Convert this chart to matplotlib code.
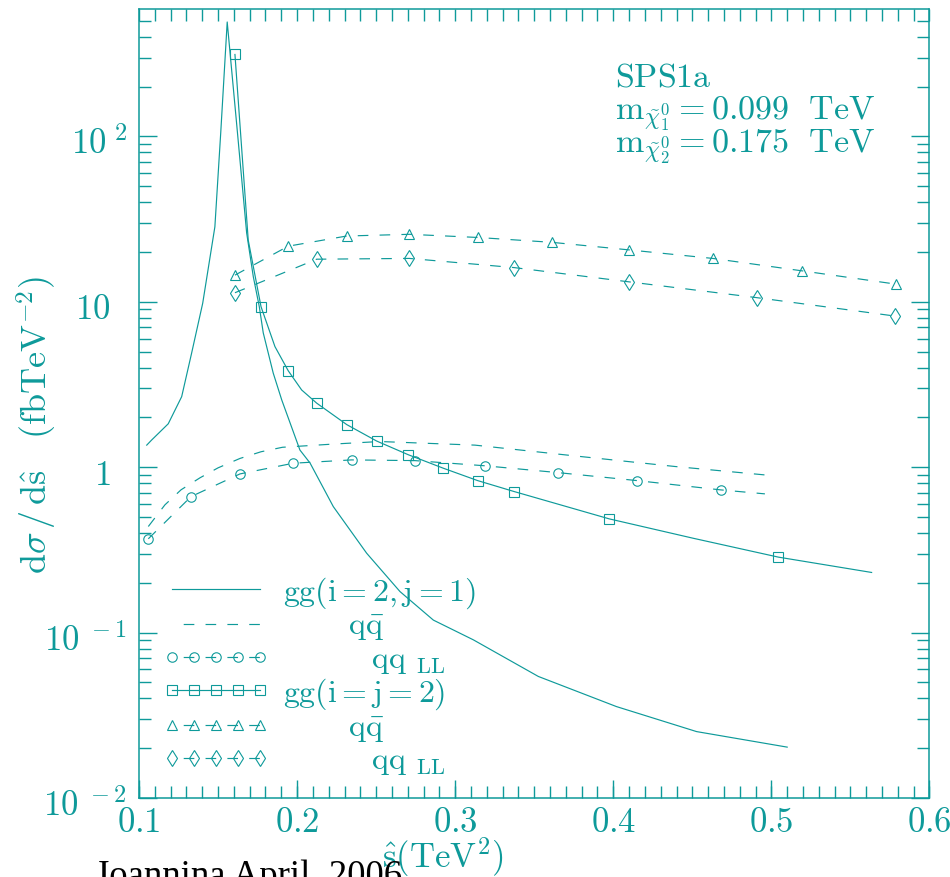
import matplotlib
matplotlib.use("Agg")
import matplotlib.pyplot as plt
from matplotlib.lines import Line2D
from matplotlib.legend_handler import HandlerLine2D
from matplotlib.ticker import MultipleLocator, LogLocator, NullFormatter
from matplotlib.transforms import ScaledTranslation

TEAL = '#0e9a9a'
plt.rcParams['mathtext.fontset'] = 'cm'
plt.rcParams['font.family'] = ['DejaVu Serif']

# --- gg(i=2,j=1) : resonance peak near the chi2 threshold ---
gg21_x = [0.1049, 0.108, 0.1185, 0.127, 0.1333, 0.1403, 0.148, 0.1517, 0.1558,
          0.1623, 0.1681, 0.1723, 0.1761, 0.1786, 0.1849, 0.1903, 0.2018, 0.2082,
          0.2229, 0.244, 0.2651, 0.2862, 0.3115, 0.3526, 0.402, 0.4527, 0.51]
gg21_y = [1.36, 1.46, 1.83, 2.67, 4.9, 9.8, 28.4, 105, 492,
          105, 26.1, 14.2, 9.34, 6.49, 3.71, 2.55, 1.27, 1.06,
          0.578, 0.302, 0.177, 0.119, 0.0904, 0.0543, 0.0357, 0.0252, 0.0203]

# --- qqbar (i=2,j=1) ---
qq21_x = [0.1059, 0.1164, 0.1266, 0.1386, 0.15, 0.1639, 0.1772, 0.1908,
          0.2229, 0.2524, 0.3125, 0.3758, 0.439, 0.496]
qq21_y = [0.438, 0.592, 0.730, 0.863, 0.991, 1.13, 1.24, 1.32,
          1.38, 1.43, 1.36, 1.17, 1.01, 0.898]

# --- qq_LL (i=2,j=1) ---
ll21_x = [0.1059, 0.1329, 0.1639, 0.1976, 0.2345, 0.2746, 0.3188, 0.3648, 0.415, 0.4681, 0.4959]
ll21_y = [0.369, 0.664, 0.911, 1.057, 1.107, 1.096, 1.02, 0.928, 0.830, 0.729, 0.690]
ll21_marks = list(range(10))

# --- gg(i=j=2) ---
gg22_x = [0.1607, 0.1691, 0.1772, 0.186, 0.1944, 0.2029, 0.2124, 0.2314, 0.2503,
          0.2703, 0.2925, 0.3142, 0.3372, 0.3975, 0.4505, 0.5044, 0.5634]
gg22_y = [313, 23.6, 9.34, 5.36, 3.83, 2.93, 2.44, 1.81, 1.44,
          1.19, 0.986, 0.830, 0.713, 0.487, 0.372, 0.286, 0.231]
gg22_marks = [0, 2, 4, 6, 7, 8, 9, 10, 11, 12, 13, 15]

# --- qqbar (i=j=2) ---
qq22_x = [0.1607, 0.1944, 0.2314, 0.2710, 0.3142, 0.361, 0.4101, 0.4629, 0.5192, 0.5786]
qq22_y = [14.5, 21.7, 25.0, 25.6, 24.5, 22.9, 20.6, 18.3, 15.4, 12.8]

# --- qq_LL (i=j=2) ---
ll22_x = [0.1607, 0.2124, 0.271, 0.3374, 0.4101, 0.4907, 0.5782]
ll22_y = [11.35, 18.1, 18.3, 16.1, 13.2, 10.6, 8.2]

legend_labels = [r'$\mathrm{gg(i=2,j=1)}$',
                 r'$\quad\quad\ \mathrm{q\bar{q}}$',
                 r'$\quad\quad\quad\,\mathrm{qq}\ {}_{\mathrm{LL}}$',
                 r'$\mathrm{gg(i=j=2)}$',
                 r'$\quad\quad\ \mathrm{q\bar{q}}$',
                 r'$\quad\quad\quad\,\mathrm{qq}\ {}_{\mathrm{LL}}$']

xticks = [0.1, 0.2, 0.3, 0.4, 0.5, 0.6]
xtick_labels = [r'$0.1$', r'$0.2$', r'$0.3$', r'$0.4$', r'$0.5$', r'$0.6$']
yticks = [0.01, 0.1, 1, 10, 100]
ytick_labels = [r'$10^{\ -2}$', r'$10^{\ -1}$', r'$1$', r'$10$', r'$10^{\ 2}$']

LW = 0.85
DASH = (0, (9, 9.5))
DASH_KEY = (9, (9, 9.5))   # legend keys start on a gap
MK = dict(mfc='none', mec=TEAL, mew=0.8)

fig = plt.figure(figsize=(9.5, 8.77), dpi=100)
ax = fig.add_axes([0.1463, 0.0901, 0.8321, 0.8997])

ax.plot(gg21_x, gg21_y, color=TEAL, lw=LW)
ax.plot(qq21_x, qq21_y, color=TEAL, lw=LW, ls=DASH)
ax.plot(ll21_x, ll21_y, color=TEAL, lw=LW, ls=DASH, marker='o', ms=6.8,
        markevery=ll21_marks, **MK)
ax.plot(gg22_x, gg22_y, color=TEAL, lw=LW, marker='s', ms=6.6,
        markevery=gg22_marks, **MK)
ax.plot(qq22_x, qq22_y, color=TEAL, lw=LW, ls=DASH, marker='^', ms=7.2, **MK)
ax.plot(ll22_x, ll22_y, color=TEAL, lw=LW, ls=DASH, marker='d', ms=8, **MK)

ax.set_yscale('log')
ax.set_xlim(0.1, 0.6)
ax.set_ylim(0.01, 590)

ax.set_xticks(xticks, labels=xtick_labels)
ax.set_yticks(yticks, labels=ytick_labels)
ax.xaxis.set_minor_locator(MultipleLocator(0.01))
ax.xaxis.remove_overlapping_locs = False
ax.yaxis.set_minor_locator(LogLocator(base=10, subs=range(2, 10)))
ax.yaxis.set_minor_formatter(NullFormatter())

ax.tick_params(which='both', direction='in', colors=TEAL, labelcolor=TEAL,
               labelsize=25, width=1.0, right=True)
ax.tick_params(which='major', length=13)
ax.tick_params(which='minor', length=8.3)
ax.tick_params(axis='x', which='major', top=False, pad=5)
ax.tick_params(axis='x', which='minor', top=True)
ax.tick_params(axis='y', which='major', pad=8.5)
# plain mantissas sit further left than the powers of ten; all sit a bit low
for t in ax.get_yticklabels():
    dx = 0 if '^' in t.get_text() else -17
    t.set_transform(t.get_transform() + ScaledTranslation(dx / 100, -4 / 100, fig.dpi_scale_trans))
for s in ax.spines.values():
    s.set_color(TEAL)
    s.set_linewidth(1.1)

ax.set_ylabel(r'$\mathrm{d}\sigma\,/\,\mathrm{d}\hat{\mathrm{s}}\quad(\mathrm{fbTeV}^{-2})$',
              fontsize=26, color=TEAL, va='center')
ax.yaxis.set_label_coords(-0.129, 0.473)
ax.set_xlabel(r'$\hat{\mathrm{s}}(\mathrm{TeV}^2)$', fontsize=25, color=TEAL, va='center')
ax.xaxis.set_label_coords(0.3846, -0.075)

ax.text(0.602, 0.9011, r'$\mathrm{SPS1a}$', transform=ax.transAxes,
        fontsize=24.5, color=TEAL, va='baseline')
ax.text(0.602, 0.8606, r'$\mathrm{m}_{\tilde{\chi}_1^0}=0.099\ \ \mathrm{TeV}$',
        transform=ax.transAxes, fontsize=24.5, color=TEAL, va='baseline')
ax.text(0.602, 0.8188, r'$\mathrm{m}_{\tilde{\chi}_2^0}=0.175\ \ \mathrm{TeV}$',
        transform=ax.transAxes, fontsize=24.5, color=TEAL, va='baseline')

handles = [
    Line2D([], [], color=TEAL, lw=LW),
    Line2D([], [], color=TEAL, lw=LW, ls=DASH_KEY),
    Line2D([], [], color=TEAL, lw=LW, ls=DASH_KEY, marker='o', ms=6.8, **MK),
    Line2D([], [], color=TEAL, lw=LW, marker='s', ms=6.6, **MK),
    Line2D([], [], color=TEAL, lw=LW, ls=DASH_KEY, marker='^', ms=7.2, **MK),
    Line2D([], [], color=TEAL, lw=LW, ls=DASH_KEY, marker='d', ms=8, **MK),
]
ax.legend(handles, legend_labels, loc='upper left', bbox_to_anchor=(0.0417, 0.2826),
          frameon=False, numpoints=5, handlelength=2.75, handletextpad=0.72,
          labelspacing=0.02, borderpad=0, borderaxespad=0, fontsize=23,
          labelcolor=TEAL, handler_map={Line2D: HandlerLine2D(marker_pad=0)})

fig.text(0.0995, -0.0103, 'Joannina April, 2006', family='Liberation Serif',
         fontsize=26.5, color='black', va='baseline')

fig.savefig('out.png', dpi=100)
